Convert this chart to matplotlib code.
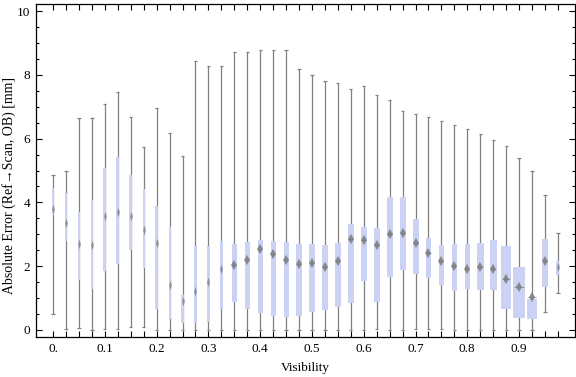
import numpy as np
import matplotlib
matplotlib.use("Agg")
import matplotlib.pyplot as plt
from matplotlib.ticker import MultipleLocator

plt.rcParams['font.family'] = ['Liberation Serif', 'DejaVu Serif']

# visibility bins (box positions)
visibility = [0.0, 0.025, 0.05, 0.075, 0.1, 0.125, 0.15, 0.175, 0.2, 0.225,
              0.25, 0.275, 0.3, 0.325, 0.35, 0.375, 0.4, 0.425, 0.45, 0.475,
              0.5, 0.525, 0.55, 0.575, 0.6, 0.625, 0.65, 0.675, 0.7, 0.725,
              0.75, 0.775, 0.8, 0.825, 0.85, 0.875, 0.9, 0.925, 0.95, 0.975]

# whisker ends (mm)
whisker_hi = [4.86, 4.98, 6.65, 6.65, 7.07, 7.46, 6.67, 5.74, 6.96, 6.17,
              5.45, 8.43, 8.27, 8.27, 8.73, 8.73, 8.77, 8.77, 8.77, 8.17,
              7.98, 7.80, 7.73, 7.55, 7.64, 7.36, 7.21, 6.86, 6.76, 6.67,
              6.54, 6.42, 6.29, 6.13, 5.95, 5.76, 5.38, 4.97, 4.22, 3.03]
whisker_lo = [0.49, 0.02, 0.05, 0.00, 0.04, 0.02, 0.08, 0.10, 0.00, 0.00,
              0.00, 0.00, 0.00, 0.00, 0.00, 0.00, 0.00, 0.00, 0.00, 0.00,
              0.00, 0.00, 0.00, 0.00, 0.00, 0.03, 0.00, 0.00, 0.02, 0.02,
              0.02, 0.00, 0.00, 0.00, 0.00, 0.00, 0.00, 0.00, 0.55, 1.15]

# quartiles and median (mm)
q3 = [4.44, 4.31, 3.70, 4.07, 5.07, 5.42, 4.86, 4.42, 3.90, 3.22,
      1.10, 2.63, 2.63, 2.79, 2.70, 2.76, 2.82, 2.79, 2.76, 2.70,
      2.70, 2.66, 2.73, 3.32, 3.23, 3.20, 4.18, 4.18, 3.48, 2.88,
      2.66, 2.70, 2.70, 2.73, 2.82, 2.63, 1.97, 0.97, 2.84, 2.16]
q1 = [3.60, 2.80, 1.57, 1.28, 1.85, 2.06, 2.52, 1.95, 0.67, 0.34,
      0.23, 0.23, 0.26, 0.67, 0.89, 0.67, 0.54, 0.45, 0.42, 0.45,
      0.57, 0.64, 0.73, 0.86, 1.55, 0.89, 1.67, 1.88, 1.77, 1.64,
      1.41, 1.23, 1.29, 1.24, 1.26, 0.67, 0.39, 0.35, 1.36, 1.72]
median = [3.80, 3.34, 2.69, 2.66, 3.57, 3.71, 3.57, 3.13, 2.74, 1.41,
          0.91, 1.22, 1.51, 1.91, 2.04, 2.19, 2.53, 2.38, 2.19, 2.07,
          2.11, 1.99, 2.17, 2.84, 2.82, 2.66, 3.01, 3.03, 2.72, 2.42,
          2.15, 2.01, 1.90, 1.97, 1.90, 1.60, 1.35, 1.02, 2.17, 1.97]

# styling: box widths in pixels as they appear in the chart
box_px = [1.3, 2.7, 2.7, 2.7, 3.0, 2.7, 3.0, 2.3, 2.3, 2.0,
          2.7, 3.0, 3.7, 3.7, 5.0, 5.0, 5.0, 5.0, 5.0, 5.3,
          5.3, 6.0, 6.0, 6.0, 6.0, 6.0, 6.0, 6.0, 6.0, 5.3,
          5.0, 5.3, 5.3, 7.0, 7.0, 10.0, 11.7, 9.3, 5.7, 3.0]

box_color = '#cbd2f4'
whisk_color = '#808080'
px_per_unit = 518.0  # x pixels per 1.0 visibility

x = np.array(visibility)
lo = np.array(whisker_lo)
hi = np.array(whisker_hi)
w = np.array(box_px) / px_per_unit
cap = 1.6 / px_per_unit

fig = plt.figure(figsize=(5.76, 3.77), dpi=100)
ax = fig.add_axes([36/576, 1 - 337/377, (575-36)/576, (337-4)/377])

ax.vlines(x, lo, hi, color=whisk_color, lw=0.9, zorder=1)
ax.hlines(lo, x - cap, x + cap, color=whisk_color, lw=0.9, zorder=1)
ax.hlines(hi, x - cap, x + cap, color=whisk_color, lw=0.9, zorder=1)
ax.bar(x, np.array(q3) - np.array(q1), bottom=q1, width=w,
       color=box_color, edgecolor='none', zorder=2)

# median marks: slim vertical diamonds on narrow boxes, small diamonds on wide ones
slim = [(0, 1), (0.28, 0), (0, -1), (-0.28, 0)]
for xi, mi, bp in zip(x, median, box_px):
    if bp < 4.5:
        ax.plot(xi, mi, marker=slim, markersize=7, markeredgewidth=0,
                markerfacecolor='#7a7a7a', alpha=0.75, zorder=3)
    else:
        ax.hlines(mi, xi - 0.4 * bp / px_per_unit, xi + 0.4 * bp / px_per_unit,
                  color='#9a9a9a', lw=0.8, zorder=3)
        ax.plot(xi, mi, marker='d', markersize=5, markeredgewidth=0,
                markerfacecolor='#777777', alpha=0.8, zorder=3)

ax.set_xlim(-0.033, 1.008)
ax.set_ylim(-0.22, 10.22)

ax.set_xticks(x)
ax.set_xticklabels(['0.' if i == 0 else ('%.1f' % v if i % 4 == 0 else '')
                    for i, v in enumerate(visibility)])
ax.yaxis.set_major_locator(MultipleLocator(2))
ax.yaxis.set_minor_locator(MultipleLocator(0.5))
ax.tick_params(axis='both', which='major', direction='in', top=True, right=True,
               length=4, width=0.8, labelsize=9.5, pad=4)
ax.tick_params(axis='y', which='minor', direction='in', right=True,
               length=2.5, width=0.8)
for s in ax.spines.values():
    s.set_linewidth(0.9)

ax.set_xlabel('Visibility', fontsize=9.5, labelpad=5)
ax.set_ylabel('Absolute Error (Ref\u2192Scan, OB) [mm]', fontsize=10)
ax.yaxis.set_label_coords(-0.038, 0.455)

fig.savefig('out.png', dpi=100)
